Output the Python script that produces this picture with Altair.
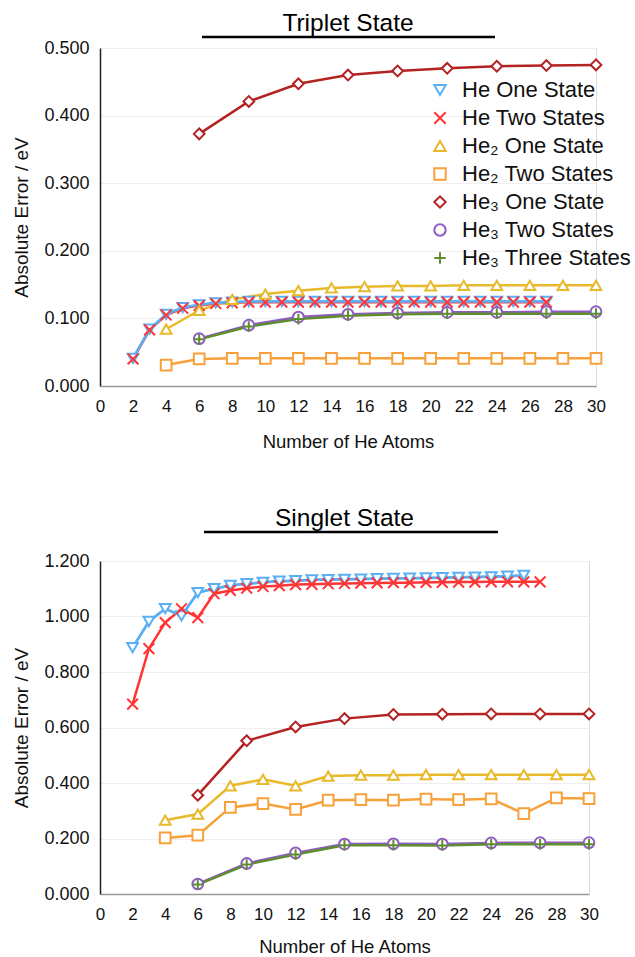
import altair as alt
import pandas as pd

FONT = "Liberation Sans"

names = ["He One State", "He Two States", "He\u2082 One State", "He\u2082 Two States",
         "He\u2083 One State", "He\u2083 Two States", "He\u2083 Three States"]
colors = ["#5AAFF5", "#FF3434", "#E8B92B", "#F8A03A", "#B42222", "#8E5BC3", "#5E8E2E"]
X_PATH = "M-1,-1L1,1M-1,1L1,-1"
PLUS_PATH = "M-1,0L1,0M0,-1L0,1"
shapes = ["triangle-down", X_PATH, "triangle-up", "square", "diamond", "circle", PLUS_PATH]

x_ticks = list(range(0, 31, 2))

# ---- Triplet state ----
tri_x_he1 = list(range(2, 28))
tri_y_he1 = [0.041, 0.084, 0.106, 0.116, 0.120, 0.123, 0.124, 0.125, 0.125, 0.125, 0.125,
             0.125, 0.125, 0.125, 0.125, 0.125, 0.125, 0.125, 0.125, 0.125, 0.125, 0.125,
             0.125, 0.125, 0.125, 0.125]
tri_x_he2s = list(range(2, 28))
tri_y_he2s = [0.040, 0.083, 0.105, 0.115, 0.119, 0.122, 0.123, 0.124, 0.124, 0.124, 0.124,
              0.124, 0.124, 0.124, 0.124, 0.124, 0.124, 0.124, 0.124, 0.124, 0.124, 0.124,
              0.124, 0.124, 0.124, 0.124]
tri_x_even = list(range(4, 31, 2))
tri_y_he2_one = [0.084, 0.112, 0.128, 0.136, 0.141, 0.145, 0.147, 0.148, 0.148, 0.149,
                 0.149, 0.149, 0.149, 0.149]
tri_y_he2_two = [0.031, 0.040, 0.041, 0.041, 0.041, 0.041, 0.041, 0.041, 0.041, 0.041,
                 0.041, 0.041, 0.041, 0.041]
tri_x_three = list(range(6, 31, 3))
tri_y_he3_one = [0.373, 0.421, 0.447, 0.460, 0.466, 0.470, 0.473, 0.474, 0.475]
tri_y_he3_two = [0.070, 0.090, 0.102, 0.106, 0.108, 0.109, 0.109, 0.110, 0.110]
tri_y_he3_three = [0.069, 0.088, 0.099, 0.104, 0.106, 0.107, 0.107, 0.107, 0.107]

# ---- Singlet state ----
sin_x_he1 = list(range(2, 27))
sin_y_he1 = [0.888, 0.982, 1.028, 1.002, 1.086, 1.100, 1.112, 1.118, 1.123, 1.127, 1.129,
             1.132, 1.133, 1.134, 1.135, 1.136, 1.137, 1.138, 1.139, 1.140, 1.141, 1.142,
             1.143, 1.145, 1.148]
sin_x_he2s = list(range(2, 28))
sin_y_he2s = [0.684, 0.884, 0.978, 1.028, 0.996, 1.082, 1.094, 1.102, 1.108, 1.111, 1.115,
              1.116, 1.118, 1.119, 1.120, 1.121, 1.122, 1.122, 1.123, 1.123, 1.124, 1.124,
              1.125, 1.125, 1.125, 1.125]
sin_x_even = list(range(4, 31, 2))
sin_y_he2_one = [0.266, 0.288, 0.390, 0.413, 0.390, 0.425, 0.428, 0.428, 0.430, 0.430,
                 0.430, 0.430, 0.430, 0.430]
sin_y_he2_two = [0.202, 0.212, 0.312, 0.326, 0.305, 0.338, 0.340, 0.338, 0.342, 0.340,
                 0.343, 0.290, 0.346, 0.344]
sin_x_three = list(range(6, 31, 3))
sin_y_he3_one = [0.356, 0.552, 0.602, 0.632, 0.647, 0.648, 0.649, 0.649, 0.649]
sin_y_he3_two = [0.036, 0.110, 0.148, 0.180, 0.181, 0.180, 0.184, 0.185, 0.185]
sin_y_he3_three = [0.034, 0.106, 0.142, 0.176, 0.176, 0.175, 0.179, 0.179, 0.179]


def make_df(pairs):
    rows = []
    for i, (xs, ys) in enumerate(pairs):
        for xv, yv in zip(xs, ys):
            rows.append({"n": xv, "v": yv, "series": names[i], "k": i})
    return pd.DataFrame(rows)


tri_df = make_df([(tri_x_he1, tri_y_he1), (tri_x_he2s, tri_y_he2s),
                  (tri_x_even, tri_y_he2_one), (tri_x_even, tri_y_he2_two),
                  (tri_x_three, tri_y_he3_one), (tri_x_three, tri_y_he3_two),
                  (tri_x_three, tri_y_he3_three)])
sin_df = make_df([(sin_x_he1, sin_y_he1), (sin_x_he2s, sin_y_he2s),
                  (sin_x_even, sin_y_he2_one), (sin_x_even, sin_y_he2_two),
                  (sin_x_three, sin_y_he3_one), (sin_x_three, sin_y_he3_two),
                  (sin_x_three, sin_y_he3_three)])


def panel(df, title_text, w, h, ymax, yvals, title_offset, ux1, ux2, uy, show_legend,
          xtitle_pad):
    x = alt.X("n:Q", scale=alt.Scale(domain=[0, 30], nice=False),
              axis=alt.Axis(values=x_ticks, title="Number of He Atoms", grid=False,
                            ticks=False, labelFontSize=17, titleFontSize=18.5,
                            titleFontWeight="normal", labelPadding=12,
                            titlePadding=xtitle_pad,
                            domainColor="#9a9a9a", domainWidth=1.5, labelFlush=False,
                            labelColor="#111", titleColor="#111", labelFont=FONT,
                            titleFont=FONT))
    y = alt.Y("v:Q", scale=alt.Scale(domain=[0, ymax], nice=False),
              axis=alt.Axis(values=yvals, format=".3f", title="Absolute Error / eV",
                            grid=True, gridColor="#efefef", gridWidth=1, ticks=False,
                            labelFontSize=18, titleFontSize=19, titleFontWeight="normal",
                            labelPadding=11, titlePadding=12, domainColor="#222",
                            domainWidth=1.5, labelColor="#111", titleColor="#111",
                            labelFont=FONT, titleFont=FONT))
    if show_legend:
        leg = alt.Legend(title=None, orient="none", legendX=329, legendY=31,
                         labelFontSize=22, labelFont=FONT, labelColor="#111",
                         labelLimit=400, symbolSize=130, symbolStrokeWidth=2,
                         rowPadding=6, labelOffset=11, padding=0,
                         symbolFillColor="white")
    else:
        leg = None
    color = alt.Color("series:N", scale=alt.Scale(domain=names, range=colors), legend=leg)
    shape = alt.Shape("series:N", scale=alt.Scale(domain=names, range=shapes), legend=leg)
    base = alt.Chart(df)
    lines = base.mark_line(strokeWidth=2.5).encode(x=x, y=y, color=color,
                                                   order=alt.Order("n:Q"))
    lines_top = base.transform_filter(alt.datum.k == 0).mark_line(strokeWidth=2.5).encode(
        x=x, y=y, color=color, order=alt.Order("n:Q"))
    pts = base.mark_point(size=115, fill="white", filled=False, strokeWidth=2,
                          opacity=1).encode(x=x, y=y, color=color, shape=shape,
                                            order=alt.Order("k:Q"))
    underline = alt.Chart(pd.DataFrame({"a": [0]})).mark_rule(
        color="black", strokeWidth=2.5).encode(
        x=alt.value(ux1), x2=alt.value(ux2), y=alt.value(uy))
    return alt.layer(lines, lines_top, pts, underline).properties(
        width=w, height=h,
        title=alt.TitleParams(title_text, fontSize=24.5, font=FONT, fontWeight="normal",
                              anchor="middle", frame="group", offset=title_offset,
                              color="#000"))


top = panel(tri_df, "Triplet State", 496, 338, 0.5, [0, 0.1, 0.2, 0.3, 0.4, 0.5],
            -1, 102, 395, -11, True, 18)
bottom = panel(sin_df, "Singlet State", 489, 333, 1.2, [0, 0.2, 0.4, 0.6, 0.8, 1.0, 1.2],
               -1, 104, 398, -29, False, 15)

chart = alt.vconcat(top, bottom, spacing=54).resolve_scale(
    color="independent", shape="independent").resolve_legend(
    color="independent", shape="independent").properties(
    padding={"left": 12, "top": 10, "right": 0, "bottom": 0}).configure_view(
    stroke=None).configure(background="white")

chart.save("out.html", embed_options={"renderer": "svg", "actions": False})
